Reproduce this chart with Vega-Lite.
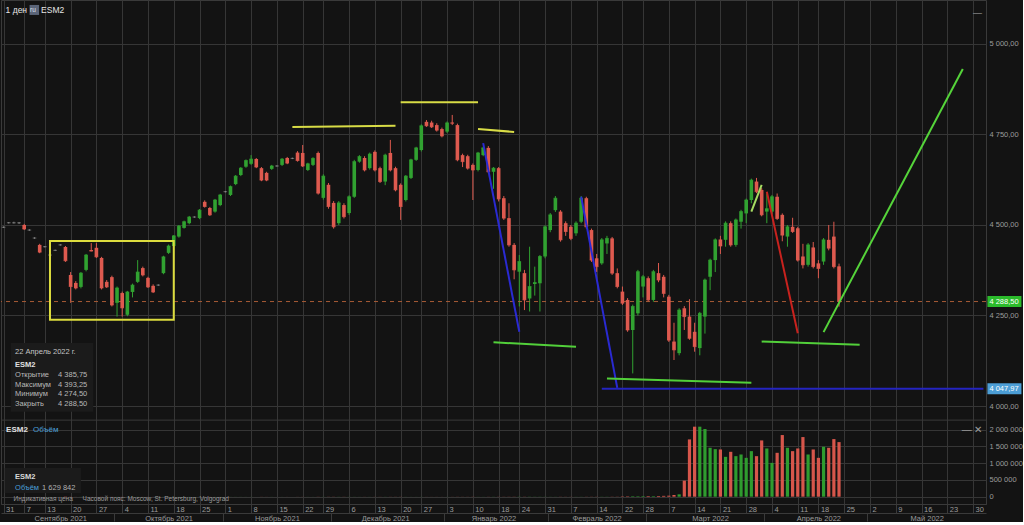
{
"$schema": "https://vega.github.io/schema/vega-lite/v6.json",
"width": 985,
"height": 504,
"padding": 0,
"autosize": {"type": "pad"},
"background": "#131313",
"config": {
  "view": {"stroke": "#3a3a3a", "strokeWidth": 1},
  "axis": {"labelFont": "Liberation Sans", "labelFontSize": 7.5, "labelColor": "#9c9c9c", "gridColor": "#363636", "gridWidth": 1, "domainColor": "#3a3a3a", "tickColor": "#3a3a3a", "labelOverlap": false, "labelAngle": 0},
  "text": {"font": "Liberation Sans"},
  "locale": {"number": {"decimal": ",", "thousands": " ", "grouping": [3], "currency": ["", ""]}}
},
"datasets": {
"ohlc": [
{"d":"2021-08-31","o":4494,"h":4496,"l":4492,"c":4494,"v":600},
{"d":"2021-09-01","o":4506,"h":4508,"l":4504,"c":4506,"v":700},
{"d":"2021-09-02","o":4506,"h":4509,"l":4504,"c":4506,"v":800},
{"d":"2021-09-03","o":4506,"h":4508,"l":4503,"c":4506,"v":600},
{"d":"2021-09-07","o":4500,"h":4503,"l":4486,"c":4489,"v":900},
{"d":"2021-09-08","o":4486,"h":4488,"l":4484,"c":4486,"v":700},
{"d":"2021-09-09","o":4464,"h":4466,"l":4462,"c":4464,"v":800},
{"d":"2021-09-10","o":4445,"h":4448,"l":4422,"c":4425,"v":1200},
{"d":"2021-09-13","o":4440,"h":4442,"l":4438,"c":4440,"v":900},
{"d":"2021-09-14","o":4417,"h":4419,"l":4415,"c":4417,"v":1000},
{"d":"2021-09-15","o":4430,"h":4432,"l":4428,"c":4430,"v":900},
{"d":"2021-09-16","o":4445,"h":4447,"l":4443,"c":4445,"v":1100},
{"d":"2021-09-17","o":4439,"h":4442,"l":4398,"c":4401,"v":2500},
{"d":"2021-09-20","o":4362,"h":4370,"l":4285,"c":4330,"v":3000},
{"d":"2021-09-21","o":4340,"h":4345,"l":4322,"c":4326,"v":1500},
{"d":"2021-09-22","o":4329,"h":4370,"l":4325,"c":4367,"v":2000},
{"d":"2021-09-23","o":4376,"h":4420,"l":4372,"c":4417,"v":1800},
{"d":"2021-09-24","o":4431,"h":4450,"l":4427,"c":4428,"v":1200},
{"d":"2021-09-27","o":4437,"h":4450,"l":4409,"c":4412,"v":1500},
{"d":"2021-09-28","o":4409,"h":4412,"l":4322,"c":4326,"v":2600},
{"d":"2021-09-29","o":4343,"h":4348,"l":4326,"c":4329,"v":1400},
{"d":"2021-09-30","o":4356,"h":4360,"l":4275,"c":4279,"v":2200},
{"d":"2021-10-01","o":4285,"h":4330,"l":4247,"c":4326,"v":2400},
{"d":"2021-10-04","o":4312,"h":4316,"l":4247,"c":4271,"v":2600},
{"d":"2021-10-05","o":4252,"h":4318,"l":4248,"c":4315,"v":2000},
{"d":"2021-10-06","o":4315,"h":4338,"l":4300,"c":4334,"v":1800},
{"d":"2021-10-07","o":4343,"h":4403,"l":4340,"c":4370,"v":2000},
{"d":"2021-10-08","o":4381,"h":4385,"l":4358,"c":4362,"v":1500},
{"d":"2021-10-11","o":4354,"h":4357,"l":4326,"c":4329,"v":1600},
{"d":"2021-10-12","o":4332,"h":4336,"l":4312,"c":4315,"v":1400},
{"d":"2021-10-13","o":4334,"h":4336,"l":4332,"c":4334,"v":900},
{"d":"2021-10-14","o":4367,"h":4415,"l":4364,"c":4412,"v":2100},
{"d":"2021-10-15","o":4423,"h":4446,"l":4420,"c":4442,"v":1700},
{"d":"2021-10-18","o":4442,"h":4472,"l":4438,"c":4470,"v":1500},
{"d":"2021-10-19","o":4468,"h":4500,"l":4465,"c":4497,"v":1600},
{"d":"2021-10-20","o":4492,"h":4512,"l":4490,"c":4509,"v":1400},
{"d":"2021-10-21","o":4505,"h":4525,"l":4502,"c":4522,"v":1300},
{"d":"2021-10-22","o":4522,"h":4524,"l":4520,"c":4522,"v":900},
{"d":"2021-10-25","o":4519,"h":4544,"l":4516,"c":4541,"v":1500},
{"d":"2021-10-26","o":4564,"h":4568,"l":4548,"c":4551,"v":1400},
{"d":"2021-10-27","o":4547,"h":4550,"l":4525,"c":4528,"v":1600},
{"d":"2021-10-28","o":4537,"h":4572,"l":4534,"c":4569,"v":1500},
{"d":"2021-10-29","o":4555,"h":4586,"l":4552,"c":4583,"v":1400},
{"d":"2021-11-01","o":4592,"h":4594,"l":4590,"c":4592,"v":900},
{"d":"2021-11-02","o":4583,"h":4609,"l":4580,"c":4606,"v":1500},
{"d":"2021-11-03","o":4613,"h":4638,"l":4610,"c":4635,"v":1700},
{"d":"2021-11-04","o":4638,"h":4660,"l":4635,"c":4657,"v":1600},
{"d":"2021-11-05","o":4661,"h":4681,"l":4658,"c":4678,"v":1500},
{"d":"2021-11-08","o":4669,"h":4693,"l":4666,"c":4682,"v":1400},
{"d":"2021-11-09","o":4682,"h":4685,"l":4657,"c":4660,"v":1500},
{"d":"2021-11-10","o":4657,"h":4660,"l":4621,"c":4624,"v":1800},
{"d":"2021-11-11","o":4644,"h":4647,"l":4621,"c":4624,"v":1200},
{"d":"2021-11-12","o":4655,"h":4666,"l":4652,"c":4663,"v":1300},
{"d":"2021-11-15","o":4663,"h":4665,"l":4661,"c":4663,"v":900},
{"d":"2021-11-16","o":4666,"h":4685,"l":4663,"c":4682,"v":1200},
{"d":"2021-11-17","o":4685,"h":4688,"l":4668,"c":4671,"v":1100},
{"d":"2021-11-18","o":4684,"h":4686,"l":4682,"c":4684,"v":900},
{"d":"2021-11-19","o":4700,"h":4704,"l":4675,"c":4678,"v":1300},
{"d":"2021-11-22","o":4699,"h":4721,"l":4660,"c":4663,"v":1700},
{"d":"2021-11-23","o":4652,"h":4672,"l":4649,"c":4669,"v":1500},
{"d":"2021-11-24","o":4666,"h":4687,"l":4663,"c":4684,"v":1200},
{"d":"2021-11-26","o":4699,"h":4703,"l":4584,"c":4588,"v":2600},
{"d":"2021-11-29","o":4575,"h":4640,"l":4570,"c":4635,"v":2000},
{"d":"2021-11-30","o":4611,"h":4616,"l":4545,"c":4551,"v":2800},
{"d":"2021-12-01","o":4561,"h":4566,"l":4490,"c":4495,"v":3000},
{"d":"2021-12-02","o":4505,"h":4566,"l":4500,"c":4561,"v":2500},
{"d":"2021-12-03","o":4555,"h":4560,"l":4518,"c":4523,"v":2400},
{"d":"2021-12-06","o":4533,"h":4582,"l":4528,"c":4578,"v":2000},
{"d":"2021-12-07","o":4578,"h":4680,"l":4575,"c":4675,"v":2200},
{"d":"2021-12-08","o":4675,"h":4693,"l":4672,"c":4689,"v":1500},
{"d":"2021-12-09","o":4685,"h":4690,"l":4648,"c":4652,"v":1700},
{"d":"2021-12-10","o":4657,"h":4700,"l":4653,"c":4696,"v":1600},
{"d":"2021-12-13","o":4702,"h":4706,"l":4648,"c":4652,"v":1800},
{"d":"2021-12-14","o":4657,"h":4661,"l":4616,"c":4620,"v":1900},
{"d":"2021-12-15","o":4620,"h":4697,"l":4610,"c":4693,"v":2300},
{"d":"2021-12-16","o":4699,"h":4735,"l":4648,"c":4652,"v":2100},
{"d":"2021-12-17","o":4657,"h":4661,"l":4593,"c":4597,"v":2400},
{"d":"2021-12-20","o":4611,"h":4615,"l":4514,"c":4551,"v":2600},
{"d":"2021-12-21","o":4569,"h":4638,"l":4565,"c":4635,"v":1900},
{"d":"2021-12-22","o":4630,"h":4683,"l":4627,"c":4680,"v":1500},
{"d":"2021-12-23","o":4680,"h":4716,"l":4677,"c":4713,"v":1400},
{"d":"2021-12-27","o":4707,"h":4778,"l":4703,"c":4774,"v":1600},
{"d":"2021-12-28","o":4785,"h":4790,"l":4771,"c":4774,"v":1200},
{"d":"2021-12-29","o":4783,"h":4788,"l":4768,"c":4771,"v":1100},
{"d":"2021-12-30","o":4776,"h":4781,"l":4758,"c":4762,"v":1300},
{"d":"2021-12-31","o":4765,"h":4769,"l":4742,"c":4746,"v":1200},
{"d":"2022-01-03","o":4758,"h":4786,"l":4754,"c":4782,"v":1500},
{"d":"2022-01-04","o":4783,"h":4804,"l":4776,"c":4781,"v":1800},
{"d":"2022-01-05","o":4776,"h":4780,"l":4676,"c":4680,"v":2500},
{"d":"2022-01-06","o":4693,"h":4697,"l":4660,"c":4675,"v":2200},
{"d":"2022-01-07","o":4690,"h":4694,"l":4653,"c":4657,"v":2100},
{"d":"2022-01-10","o":4666,"h":4670,"l":4569,"c":4652,"v":3000},
{"d":"2022-01-11","o":4652,"h":4702,"l":4648,"c":4699,"v":2000},
{"d":"2022-01-12","o":4693,"h":4716,"l":4690,"c":4713,"v":1800},
{"d":"2022-01-13","o":4713,"h":4718,"l":4643,"c":4647,"v":2400},
{"d":"2022-01-14","o":4647,"h":4660,"l":4600,"c":4657,"v":2600},
{"d":"2022-01-18","o":4657,"h":4660,"l":4565,"c":4572,"v":3000},
{"d":"2022-01-19","o":4574,"h":4580,"l":4514,"c":4519,"v":2800},
{"d":"2022-01-20","o":4519,"h":4560,"l":4440,"c":4445,"v":3200},
{"d":"2022-01-21","o":4445,"h":4450,"l":4350,"c":4376,"v":3400},
{"d":"2022-01-24","o":4371,"h":4417,"l":4275,"c":4399,"v":4000},
{"d":"2022-01-25","o":4367,"h":4376,"l":4265,"c":4293,"v":3600},
{"d":"2022-01-26","o":4297,"h":4440,"l":4261,"c":4330,"v":4000},
{"d":"2022-01-27","o":4337,"h":4385,"l":4305,"c":4341,"v":3600},
{"d":"2022-01-28","o":4339,"h":4417,"l":4261,"c":4413,"v":3500},
{"d":"2022-01-31","o":4413,"h":4499,"l":4408,"c":4495,"v":2800},
{"d":"2022-02-01","o":4486,"h":4533,"l":4480,"c":4528,"v":2500},
{"d":"2022-02-02","o":4541,"h":4580,"l":4536,"c":4574,"v":2400},
{"d":"2022-02-03","o":4537,"h":4541,"l":4454,"c":4459,"v":3000},
{"d":"2022-02-04","o":4505,"h":4510,"l":4470,"c":4482,"v":2600},
{"d":"2022-02-07","o":4495,"h":4500,"l":4458,"c":4463,"v":2400},
{"d":"2022-02-08","o":4477,"h":4510,"l":4470,"c":4505,"v":2300},
{"d":"2022-02-09","o":4509,"h":4580,"l":4505,"c":4574,"v":2500},
{"d":"2022-02-10","o":4574,"h":4578,"l":4490,"c":4495,"v":3000},
{"d":"2022-02-11","o":4486,"h":4490,"l":4398,"c":4403,"v":3200},
{"d":"2022-02-14","o":4408,"h":4420,"l":4370,"c":4385,"v":3400},
{"d":"2022-02-15","o":4394,"h":4464,"l":4390,"c":4459,"v":3500},
{"d":"2022-02-16","o":4449,"h":4470,"l":4420,"c":4463,"v":3600},
{"d":"2022-02-17","o":4463,"h":4467,"l":4362,"c":4367,"v":4000},
{"d":"2022-02-18","o":4367,"h":4380,"l":4325,"c":4330,"v":4200},
{"d":"2022-02-22","o":4316,"h":4330,"l":4279,"c":4284,"v":10000},
{"d":"2022-02-23","o":4293,"h":4298,"l":4205,"c":4210,"v":12000},
{"d":"2022-02-24","o":4210,"h":4280,"l":4090,"c":4275,"v":15000},
{"d":"2022-02-25","o":4256,"h":4376,"l":4250,"c":4371,"v":14000},
{"d":"2022-02-28","o":4330,"h":4362,"l":4300,"c":4357,"v":16000},
{"d":"2022-03-01","o":4353,"h":4358,"l":4288,"c":4293,"v":18000},
{"d":"2022-03-02","o":4293,"h":4376,"l":4288,"c":4371,"v":16000},
{"d":"2022-03-03","o":4367,"h":4395,"l":4342,"c":4348,"v":20000},
{"d":"2022-03-04","o":4357,"h":4362,"l":4300,"c":4311,"v":25000},
{"d":"2022-03-07","o":4302,"h":4307,"l":4177,"c":4182,"v":30000},
{"d":"2022-03-08","o":4178,"h":4230,"l":4127,"c":4155,"v":50000},
{"d":"2022-03-09","o":4146,"h":4270,"l":4140,"c":4265,"v":70000},
{"d":"2022-03-10","o":4270,"h":4276,"l":4210,"c":4247,"v":480000},
{"d":"2022-03-11","o":4247,"h":4295,"l":4183,"c":4187,"v":1710000},
{"d":"2022-03-14","o":4205,"h":4230,"l":4150,"c":4164,"v":2090000},
{"d":"2022-03-15","o":4160,"h":4260,"l":4140,"c":4256,"v":2090000},
{"d":"2022-03-16","o":4247,"h":4352,"l":4200,"c":4348,"v":2020000},
{"d":"2022-03-17","o":4357,"h":4407,"l":4320,"c":4403,"v":1460000},
{"d":"2022-03-18","o":4403,"h":4463,"l":4370,"c":4459,"v":1420000},
{"d":"2022-03-21","o":4460,"h":4470,"l":4420,"c":4442,"v":1410000},
{"d":"2022-03-22","o":4459,"h":4510,"l":4440,"c":4505,"v":1190000},
{"d":"2022-03-23","o":4505,"h":4510,"l":4440,"c":4445,"v":1340000},
{"d":"2022-03-24","o":4445,"h":4518,"l":4440,"c":4514,"v":1210000},
{"d":"2022-03-25","o":4509,"h":4542,"l":4490,"c":4537,"v":1260000},
{"d":"2022-03-28","o":4532,"h":4573,"l":4505,"c":4569,"v":1160000},
{"d":"2022-03-29","o":4569,"h":4628,"l":4560,"c":4624,"v":1360000},
{"d":"2022-03-30","o":4620,"h":4630,"l":4588,"c":4592,"v":1210000},
{"d":"2022-03-31","o":4597,"h":4602,"l":4524,"c":4528,"v":1680000},
{"d":"2022-04-01","o":4537,"h":4587,"l":4505,"c":4545,"v":1440000},
{"d":"2022-04-04","o":4537,"h":4583,"l":4530,"c":4578,"v":1010000},
{"d":"2022-04-05","o":4578,"h":4587,"l":4514,"c":4518,"v":1310000},
{"d":"2022-04-06","o":4528,"h":4532,"l":4455,"c":4472,"v":1840000},
{"d":"2022-04-07","o":4468,"h":4500,"l":4440,"c":4495,"v":1460000},
{"d":"2022-04-08","o":4495,"h":4520,"l":4478,"c":4482,"v":1360000},
{"d":"2022-04-11","o":4491,"h":4495,"l":4399,"c":4403,"v":1440000},
{"d":"2022-04-12","o":4413,"h":4448,"l":4380,"c":4390,"v":1780000},
{"d":"2022-04-13","o":4390,"h":4450,"l":4385,"c":4445,"v":1260000},
{"d":"2022-04-14","o":4438,"h":4453,"l":4380,"c":4385,"v":1410000},
{"d":"2022-04-18","o":4394,"h":4403,"l":4353,"c":4380,"v":1160000},
{"d":"2022-04-19","o":4399,"h":4464,"l":4390,"c":4459,"v":1490000},
{"d":"2022-04-20","o":4459,"h":4500,"l":4430,"c":4436,"v":1460000},
{"d":"2022-04-21","o":4468,"h":4509,"l":4380,"c":4385,"v":1720000},
{"d":"2022-04-22","o":4385.75,"h":4393.25,"l":4274.5,"c":4288.5,"v":1629842}
],
"lines": [
{"id":"y1","t":"resist","d":"2021-11-18","p":4771},
{"id":"y1","t":"resist","d":"2021-12-17","p":4774},
{"id":"y2","t":"resist","d":"2021-12-20","p":4839},
{"id":"y2","t":"resist","d":"2022-01-11","p":4839},
{"id":"y3","t":"resist","d":"2022-01-11","p":4765},
{"id":"y3","t":"resist","d":"2022-01-21","p":4757},
{"id":"b1","t":"fall","d":"2022-01-12","p":4726},
{"id":"b1","t":"fall","d":"2022-01-24","p":4205},
{"id":"g1","t":"support","d":"2022-01-14","p":4176},
{"id":"g1","t":"support","d":"2022-02-08","p":4164},
{"id":"b2","t":"fall","d":"2022-02-09","p":4578},
{"id":"b2","t":"fall","d":"2022-02-18","p":4050},
{"id":"lv","t":"level","d":"2022-02-15","p":4047.97},
{"id":"lv","t":"level","d":"2022-06-01","p":4047.97},
{"id":"g2","t":"support","d":"2022-02-16","p":4076},
{"id":"g2","t":"support","d":"2022-03-29","p":4064},
{"id":"s1","t":"rise","d":"2022-03-29","p":4537},
{"id":"s1","t":"rise","d":"2022-03-31","p":4611},
{"id":"r1","t":"drop","d":"2022-04-01","p":4592},
{"id":"r1","t":"drop","d":"2022-04-11","p":4201},
{"id":"g3","t":"support","d":"2022-03-31","p":4178},
{"id":"g3","t":"support","d":"2022-04-28","p":4169},
{"id":"g4","t":"target","d":"2022-04-19","p":4204},
{"id":"g4","t":"target","d":"2022-05-26","p":4931}
]
},
"layer": [
{
  "layer": [
    {"data": {"name": "ohlc"}, "mark": {"type": "rule", "strokeWidth": 1},
     "encoding": {
       "x": {"field": "d", "type": "ordinal", "title": null,
             "scale": {"type": "point", "padding": 0.5, "domain": ["2021-08-31","2021-09-01","2021-09-02","2021-09-03","2021-09-07","2021-09-08","2021-09-09","2021-09-10","2021-09-13","2021-09-14","2021-09-15","2021-09-16","2021-09-17","2021-09-20","2021-09-21","2021-09-22","2021-09-23","2021-09-24","2021-09-27","2021-09-28","2021-09-29","2021-09-30","2021-10-01","2021-10-04","2021-10-05","2021-10-06","2021-10-07","2021-10-08","2021-10-11","2021-10-12","2021-10-13","2021-10-14","2021-10-15","2021-10-18","2021-10-19","2021-10-20","2021-10-21","2021-10-22","2021-10-25","2021-10-26","2021-10-27","2021-10-28","2021-10-29","2021-11-01","2021-11-02","2021-11-03","2021-11-04","2021-11-05","2021-11-08","2021-11-09","2021-11-10","2021-11-11","2021-11-12","2021-11-15","2021-11-16","2021-11-17","2021-11-18","2021-11-19","2021-11-22","2021-11-23","2021-11-24","2021-11-26","2021-11-29","2021-11-30","2021-12-01","2021-12-02","2021-12-03","2021-12-06","2021-12-07","2021-12-08","2021-12-09","2021-12-10","2021-12-13","2021-12-14","2021-12-15","2021-12-16","2021-12-17","2021-12-20","2021-12-21","2021-12-22","2021-12-23","2021-12-27","2021-12-28","2021-12-29","2021-12-30","2021-12-31","2022-01-03","2022-01-04","2022-01-05","2022-01-06","2022-01-07","2022-01-10","2022-01-11","2022-01-12","2022-01-13","2022-01-14","2022-01-18","2022-01-19","2022-01-20","2022-01-21","2022-01-24","2022-01-25","2022-01-26","2022-01-27","2022-01-28","2022-01-31","2022-02-01","2022-02-02","2022-02-03","2022-02-04","2022-02-07","2022-02-08","2022-02-09","2022-02-10","2022-02-11","2022-02-14","2022-02-15","2022-02-16","2022-02-17","2022-02-18","2022-02-22","2022-02-23","2022-02-24","2022-02-25","2022-02-28","2022-03-01","2022-03-02","2022-03-03","2022-03-04","2022-03-07","2022-03-08","2022-03-09","2022-03-10","2022-03-11","2022-03-14","2022-03-15","2022-03-16","2022-03-17","2022-03-18","2022-03-21","2022-03-22","2022-03-23","2022-03-24","2022-03-25","2022-03-28","2022-03-29","2022-03-30","2022-03-31","2022-04-01","2022-04-04","2022-04-05","2022-04-06","2022-04-07","2022-04-08","2022-04-11","2022-04-12","2022-04-13","2022-04-14","2022-04-18","2022-04-19","2022-04-20","2022-04-21","2022-04-22","2022-04-25","2022-04-26","2022-04-27","2022-04-28","2022-04-29","2022-05-02","2022-05-03","2022-05-04","2022-05-05","2022-05-06","2022-05-09","2022-05-10","2022-05-11","2022-05-12","2022-05-13","2022-05-16","2022-05-17","2022-05-18","2022-05-19","2022-05-20","2022-05-23","2022-05-24","2022-05-25","2022-05-26","2022-05-27","2022-05-30","2022-05-31","2022-06-01"]},
             "axis": {"orient": "bottom", "values": ["2021-08-31","2021-09-07","2021-09-13","2021-09-20","2021-09-27","2021-10-04","2021-10-11","2021-10-18","2021-10-25","2021-11-01","2021-11-08","2021-11-15","2021-11-22","2021-11-29","2021-12-06","2021-12-13","2021-12-20","2021-12-27","2022-01-03","2022-01-10","2022-01-18","2022-01-24","2022-01-31","2022-02-07","2022-02-14","2022-02-22","2022-02-28","2022-03-07","2022-03-14","2022-03-21","2022-03-28","2022-04-04","2022-04-11","2022-04-18","2022-04-25","2022-05-02","2022-05-09","2022-05-16","2022-05-23","2022-05-30"], "grid": true, "labels": false, "ticks": false, "tickSize": 0, "domain": false}},
       "y": {"field": "l", "type": "quantitative", "title": null, "scale": {"domain": [3729.3, 5121.5], "nice": false, "zero": false},
             "axis": {"orient": "right", "values": [4000, 4250, 4500, 4750, 5000], "format": ",.2f", "grid": true, "domain": false, "ticks": false, "tickSize": 0, "labelPadding": 3}},
       "y2": {"field": "h"},
       "color": {"condition": [{"test": "datum.c > datum.o", "value": "#31a231"}, {"test": "datum.c == datum.o", "value": "#8c8c8c"}], "value": "#de5a4f"}
     }},
    {"data": {"values": [{}]}, "mark": {"type": "rect", "color": "#1b1b1b", "xOffset": 2, "x2Offset": 2},
     "encoding": {"x": {"datum": "2021-09-01", "type": "ordinal", "title": null}, "x2": {"datum": "2021-09-24"},
                  "y": {"datum": 4174, "type": "quantitative", "title": null}, "y2": {"datum": 3984}}},
    {"data": {"values": [{}]}, "mark": {"type": "rule", "stroke": "#a85c36", "color": "#a85c36", "strokeDash": [4, 4], "strokeWidth": 1},
     "encoding": {"y": {"datum": 4288.5, "type": "quantitative", "title": null}}},
    {"data": {"name": "ohlc"}, "mark": {"type": "bar", "size": 3.6},
     "encoding": {
       "x": {"field": "d", "type": "ordinal", "title": null},
       "y": {"field": "o", "type": "quantitative", "title": null},
       "y2": {"field": "c"},
       "color": {"condition": [{"test": "datum.c > datum.o", "value": "#31a231"}, {"test": "datum.c == datum.o", "value": "#8c8c8c"}], "value": "#de5a4f"}
     }},
    {"data": {"name": "ohlc"}, "mark": {"type": "tick", "size": 3.6, "thickness": 1},
     "encoding": {
       "x": {"field": "d", "type": "ordinal", "title": null},
       "y": {"field": "c", "type": "quantitative", "title": null},
       "color": {"condition": [{"test": "datum.c > datum.o", "value": "#31a231"}, {"test": "datum.c == datum.o", "value": "#8c8c8c"}], "value": "#de5a4f"}
     }},
    {"data": {"values": [{}]}, "mark": {"type": "rule", "stroke": "#3a3a3a", "strokeWidth": 1},
     "encoding": {"y": {"datum": 3961, "type": "quantitative", "title": null}}},
    {"data": {"values": [{}]}, "mark": {"type": "rect", "fillOpacity": 0, "stroke": "#dcdc3e", "strokeWidth": 2},
     "encoding": {"x": {"datum": "2021-09-14", "type": "ordinal", "title": null}, "x2": {"datum": "2021-10-18"},
                  "y": {"datum": 4456, "type": "quantitative", "title": null}, "y2": {"datum": 4238}}},
    {"data": {"name": "lines"}, "mark": {"type": "line", "strokeWidth": 2},
     "encoding": {
       "x": {"field": "d", "type": "ordinal", "title": null},
       "y": {"field": "p", "type": "quantitative", "title": null},
       "detail": {"field": "id"},
       "color": {"field": "t", "type": "nominal", "legend": null,
                 "scale": {"domain": ["resist", "fall", "support", "drop", "rise", "target", "level"], "range": ["#d8dc46", "#2a2ad2", "#52d03a", "#c8221e", "#a6dc62", "#55d43a", "#2424c0"]}}
     }},
    {"data": {"values": [{}]}, "mark": {"type": "rect", "color": "#2bbb2b", "xOffset": 4, "x2Offset": 38, "yOffset": -5.5, "y2Offset": 5.5},
     "encoding": {"x": {"datum": "2022-06-01", "type": "ordinal", "title": null}, "x2": {"datum": "2022-06-01"},
                  "y": {"datum": 4288.5, "type": "quantitative", "title": null}, "y2": {"datum": 4288.5}}},
    {"data": {"values": [{}]}, "mark": {"type": "rect", "color": "#4c9ed6", "xOffset": 4, "x2Offset": 38, "yOffset": -5.5, "y2Offset": 5.5},
     "encoding": {"x": {"datum": "2022-06-01", "type": "ordinal", "title": null}, "x2": {"datum": "2022-06-01"},
                  "y": {"datum": 4047.97, "type": "quantitative", "title": null}, "y2": {"datum": 4047.97}}},
    {"data": {"values": [{}]}, "mark": {"type": "text", "align": "left", "baseline": "middle", "fontSize": 7.5, "color": "#ffffff", "dx": 6},
     "encoding": {"x": {"datum": "2022-06-01", "type": "ordinal", "title": null}, "y": {"datum": 4288.5, "type": "quantitative", "title": null}, "text": {"value": "4 288,50"}}},
    {"data": {"values": [{}]}, "mark": {"type": "text", "align": "left", "baseline": "middle", "fontSize": 7.5, "color": "#ffffff", "dx": 6},
     "encoding": {"x": {"datum": "2022-06-01", "type": "ordinal", "title": null}, "y": {"datum": 4047.97, "type": "quantitative", "title": null}, "text": {"value": "4 047,97"}}},
    {"data": {"values": [{}]}, "mark": {"type": "text", "align": "center", "baseline": "middle", "fontSize": 9, "color": "#aaaaaa", "dx": -6},
     "encoding": {"x": {"datum": "2022-06-01", "type": "ordinal", "title": null}, "y": {"datum": 5086, "type": "quantitative", "title": null}, "text": {"value": "—"}}},
    {"data": {"values": [{}]}, "mark": {"type": "text", "align": "left", "baseline": "middle", "fontSize": 8.5, "color": "#e6e6e6", "dx": 2},
     "encoding": {"x": {"datum": "2021-08-31", "type": "ordinal", "title": null}, "y": {"datum": 5094, "type": "quantitative", "title": null}, "text": {"value": "1 ден"}}},
    {"data": {"values": [{}]}, "mark": {"type": "rect", "color": "#5b6579", "xOffset": 26, "x2Offset": 35.5, "yOffset": -5, "y2Offset": 5},
     "encoding": {"x": {"datum": "2021-08-31", "type": "ordinal", "title": null}, "x2": {"datum": "2021-08-31"},
                  "y": {"datum": 5094, "type": "quantitative", "title": null}, "y2": {"datum": 5094}}},
    {"data": {"values": [{}]}, "mark": {"type": "text", "align": "left", "baseline": "middle", "fontSize": 6.5, "color": "#dfe4ee", "dx": 26.5},
     "encoding": {"x": {"datum": "2021-08-31", "type": "ordinal", "title": null}, "y": {"datum": 5094, "type": "quantitative", "title": null}, "text": {"value": "ru"}}},
    {"data": {"values": [{}]}, "mark": {"type": "text", "align": "left", "baseline": "middle", "fontSize": 8.5, "color": "#e6e6e6", "dx": 37.5},
     "encoding": {"x": {"datum": "2021-08-31", "type": "ordinal", "title": null}, "y": {"datum": 5094, "type": "quantitative", "title": null}, "text": {"value": "ESM2"}}},
    {"data": {"values": [{}]}, "mark": {"type": "text", "align": "left", "baseline": "middle", "fontSize": 7.5, "color": "#c4c4c4", "dx": 11.5},
     "encoding": {"x": {"datum": "2021-08-31", "type": "ordinal", "title": null}, "y": {"datum": 4149, "type": "quantitative", "title": null}, "text": {"value": "22 Апрель 2022 г."}}},
    {"data": {"values": [{}]}, "mark": {"type": "text", "align": "left", "baseline": "middle", "fontSize": 7.5, "fontWeight": "bold", "color": "#e0e0e0", "dx": 11.5},
     "encoding": {"x": {"datum": "2021-08-31", "type": "ordinal", "title": null}, "y": {"datum": 4113, "type": "quantitative", "title": null}, "text": {"value": "ESM2"}}},
    {"data": {"values": [{}]}, "mark": {"type": "text", "align": "left", "baseline": "top", "fontSize": 7.5, "lineHeight": 9.7, "color": "#b8b8b8", "dx": 11.5},
     "encoding": {"x": {"datum": "2021-08-31", "type": "ordinal", "title": null}, "y": {"datum": 4097, "type": "quantitative", "title": null}, "text": {"value": ["Открытие", "Максимум", "Минимум", "Закрыть"]}}},
    {"data": {"values": [{}]}, "mark": {"type": "text", "align": "left", "baseline": "top", "fontSize": 7.5, "lineHeight": 9.7, "color": "#b8b8b8", "dx": 54.5},
     "encoding": {"x": {"datum": "2021-08-31", "type": "ordinal", "title": null}, "y": {"datum": 4097, "type": "quantitative", "title": null}, "text": {"value": ["4 385,75", "4 393,25", "4 274,50", "4 288,50"]}}}
  ]
},
{
  "layer": [
    {"data": {"name": "ohlc"}, "mark": {"type": "bar", "size": 3.2},
     "encoding": {
       "x": {"field": "d", "type": "ordinal", "title": null,
             "axis": {"orient": "bottom", "values": ["2021-08-31","2021-09-07","2021-09-13","2021-09-20","2021-09-27","2021-10-04","2021-10-11","2021-10-18","2021-10-25","2021-11-01","2021-11-08","2021-11-15","2021-11-22","2021-11-29","2021-12-06","2021-12-13","2021-12-20","2021-12-27","2022-01-03","2022-01-10","2022-01-18","2022-01-24","2022-01-31","2022-02-07","2022-02-14","2022-02-22","2022-02-28","2022-03-07","2022-03-14","2022-03-21","2022-03-28","2022-04-04","2022-04-11","2022-04-18","2022-04-25","2022-05-02","2022-05-09","2022-05-16","2022-05-23","2022-05-30"],
                      "grid": false, "labelExpr": "toNumber(slice(datum.value, 8))", "labelAlign": "left", "labelBaseline": "top", "labelOffset": 2, "labelPadding": -8, "ticks": true, "tickSize": 9, "domain": true}},
       "y": {"field": "v", "type": "quantitative", "title": null, "scale": {"domain": [-218000, 14826000], "nice": false, "zero": false},
             "axis": {"orient": "right", "values": [0, 500000, 1000000, 1500000, 2000000], "format": ",d", "grid": true, "domain": false, "ticks": false, "tickSize": 0, "labelPadding": 3}},
       "y2": {"datum": 0},
       "color": {"condition": {"test": "datum.c >= datum.o", "value": "#2f9c2f"}, "value": "#d6564b"}
     }},
    {"data": {"values": [{}]}, "mark": {"type": "rect", "color": "#1b1b1b", "xOffset": -4},
     "encoding": {"x": {"datum": "2021-09-01", "type": "ordinal", "title": null}, "x2": {"datum": "2021-09-22"},
                  "y": {"datum": 856000, "type": "quantitative", "title": null}, "y2": {"datum": 110000}}},
    {"data": {"values": [{}]}, "mark": {"type": "text", "align": "left", "baseline": "middle", "fontSize": 8, "fontWeight": "bold", "color": "#e0e0e0", "dx": 2.5},
     "encoding": {"x": {"datum": "2021-08-31", "type": "ordinal", "title": null}, "y": {"datum": 2000000, "type": "quantitative", "title": null}, "text": {"value": "ESM2"}}},
    {"data": {"values": [{}]}, "mark": {"type": "text", "align": "left", "baseline": "middle", "fontSize": 8, "color": "#4a9fd8", "dx": 29.5},
     "encoding": {"x": {"datum": "2021-08-31", "type": "ordinal", "title": null}, "y": {"datum": 2000000, "type": "quantitative", "title": null}, "text": {"value": "Объём"}}},
    {"data": {"values": [{}]}, "mark": {"type": "text", "align": "right", "baseline": "middle", "fontSize": 10, "color": "#9c9c9c", "dx": -1},
     "encoding": {"x": {"datum": "2022-06-01", "type": "ordinal", "title": null}, "y": {"datum": 2000000, "type": "quantitative", "title": null}, "text": {"value": "— ✕"}}},
    {"data": {"values": [{}]}, "mark": {"type": "text", "align": "left", "baseline": "middle", "fontSize": 7.5, "fontWeight": "bold", "color": "#d8d8d8", "dx": 11.5},
     "encoding": {"x": {"datum": "2021-08-31", "type": "ordinal", "title": null}, "y": {"datum": 588000, "type": "quantitative", "title": null}, "text": {"value": "ESM2"}}},
    {"data": {"values": [{}]}, "mark": {"type": "text", "align": "left", "baseline": "middle", "fontSize": 7.5, "color": "#4a9fd8", "dx": 11.5},
     "encoding": {"x": {"datum": "2021-08-31", "type": "ordinal", "title": null}, "y": {"datum": 260000, "type": "quantitative", "title": null}, "text": {"value": "Объём"}}},
    {"data": {"values": [{}]}, "mark": {"type": "text", "align": "left", "baseline": "middle", "fontSize": 7.5, "color": "#b0b0b0", "dx": 38.5},
     "encoding": {"x": {"datum": "2021-08-31", "type": "ordinal", "title": null}, "y": {"datum": 260000, "type": "quantitative", "title": null}, "text": {"value": "1 629 842"}}},
    {"data": {"values": [{}]}, "mark": {"type": "text", "align": "left", "baseline": "middle", "fontSize": 6.5, "color": "#9a9a9a", "dx": 10},
     "encoding": {"x": {"datum": "2021-08-31", "type": "ordinal", "title": null}, "y": {"datum": -69000, "type": "quantitative", "title": null}, "text": {"value": "Индикативная цена"}}},
    {"data": {"values": [{}]}, "mark": {"type": "text", "align": "left", "baseline": "middle", "fontSize": 6.5, "color": "#9a9a9a", "dx": 79},
     "encoding": {"x": {"datum": "2021-08-31", "type": "ordinal", "title": null}, "y": {"datum": -69000, "type": "quantitative", "title": null}, "text": {"value": "Часовой пояс: Moscow, St. Petersburg, Volgograd"}}}
  ]
},
{
  "data": {"values": [{"d": "2021-10-01"}, {"d": "2021-11-01"}, {"d": "2021-12-01"}, {"d": "2022-01-03"}, {"d": "2022-02-01"}, {"d": "2022-03-01"}, {"d": "2022-04-01"}, {"d": "2022-05-02"}]},
  "mark": {"type": "tick", "opacity": 0},
  "encoding": {"x": {"field": "d", "type": "ordinal", "title": null,
    "axis": {"orient": "bottom", "offset": 9, "values": ["2021-10-01", "2021-11-01", "2021-12-01", "2022-01-03", "2022-02-01", "2022-03-01", "2022-04-01", "2022-05-02"], "labels": false, "ticks": true, "tickSize": 8, "tickOffset": -2.6, "domain": true, "grid": false}}}
},
{
  "data": {"values": [{"d": "2021-09-16"}, {"d": "2021-10-15"}, {"d": "2021-11-15"}, {"d": "2021-12-15"}, {"d": "2022-01-14"}, {"d": "2022-02-14"}, {"d": "2022-03-17"}, {"d": "2022-04-18"}, {"d": "2022-05-17"}]},
  "mark": {"type": "tick", "opacity": 0},
  "encoding": {"x": {"field": "d", "type": "ordinal", "title": null,
    "axis": {"orient": "bottom", "offset": 9, "values": ["2021-09-16", "2021-10-15", "2021-11-15", "2021-12-15", "2022-01-14", "2022-02-14", "2022-03-17", "2022-04-18", "2022-05-17"], "labels": true, "ticks": false, "tickSize": 0, "domain": false, "grid": false, "labelAngle": 0, "labelAlign": "center", "labelBaseline": "top", "labelPadding": 1,
      "labelExpr": "datum.value == '2021-09-16' ? 'Сентябрь 2021' : datum.value == '2021-10-15' ? 'Октябрь 2021' : datum.value == '2021-11-15' ? 'Ноябрь 2021' : datum.value == '2021-12-15' ? 'Декабрь 2021' : datum.value == '2022-01-14' ? 'Январь 2022' : datum.value == '2022-02-14' ? 'Февраль 2022' : datum.value == '2022-03-17' ? 'Март 2022' : datum.value == '2022-04-18' ? 'Апрель 2022' : 'Май 2022'"}}}
}
],
"resolve": {"scale": {"y": "independent"}, "axis": {"x": "independent", "y": "independent"}}
}
